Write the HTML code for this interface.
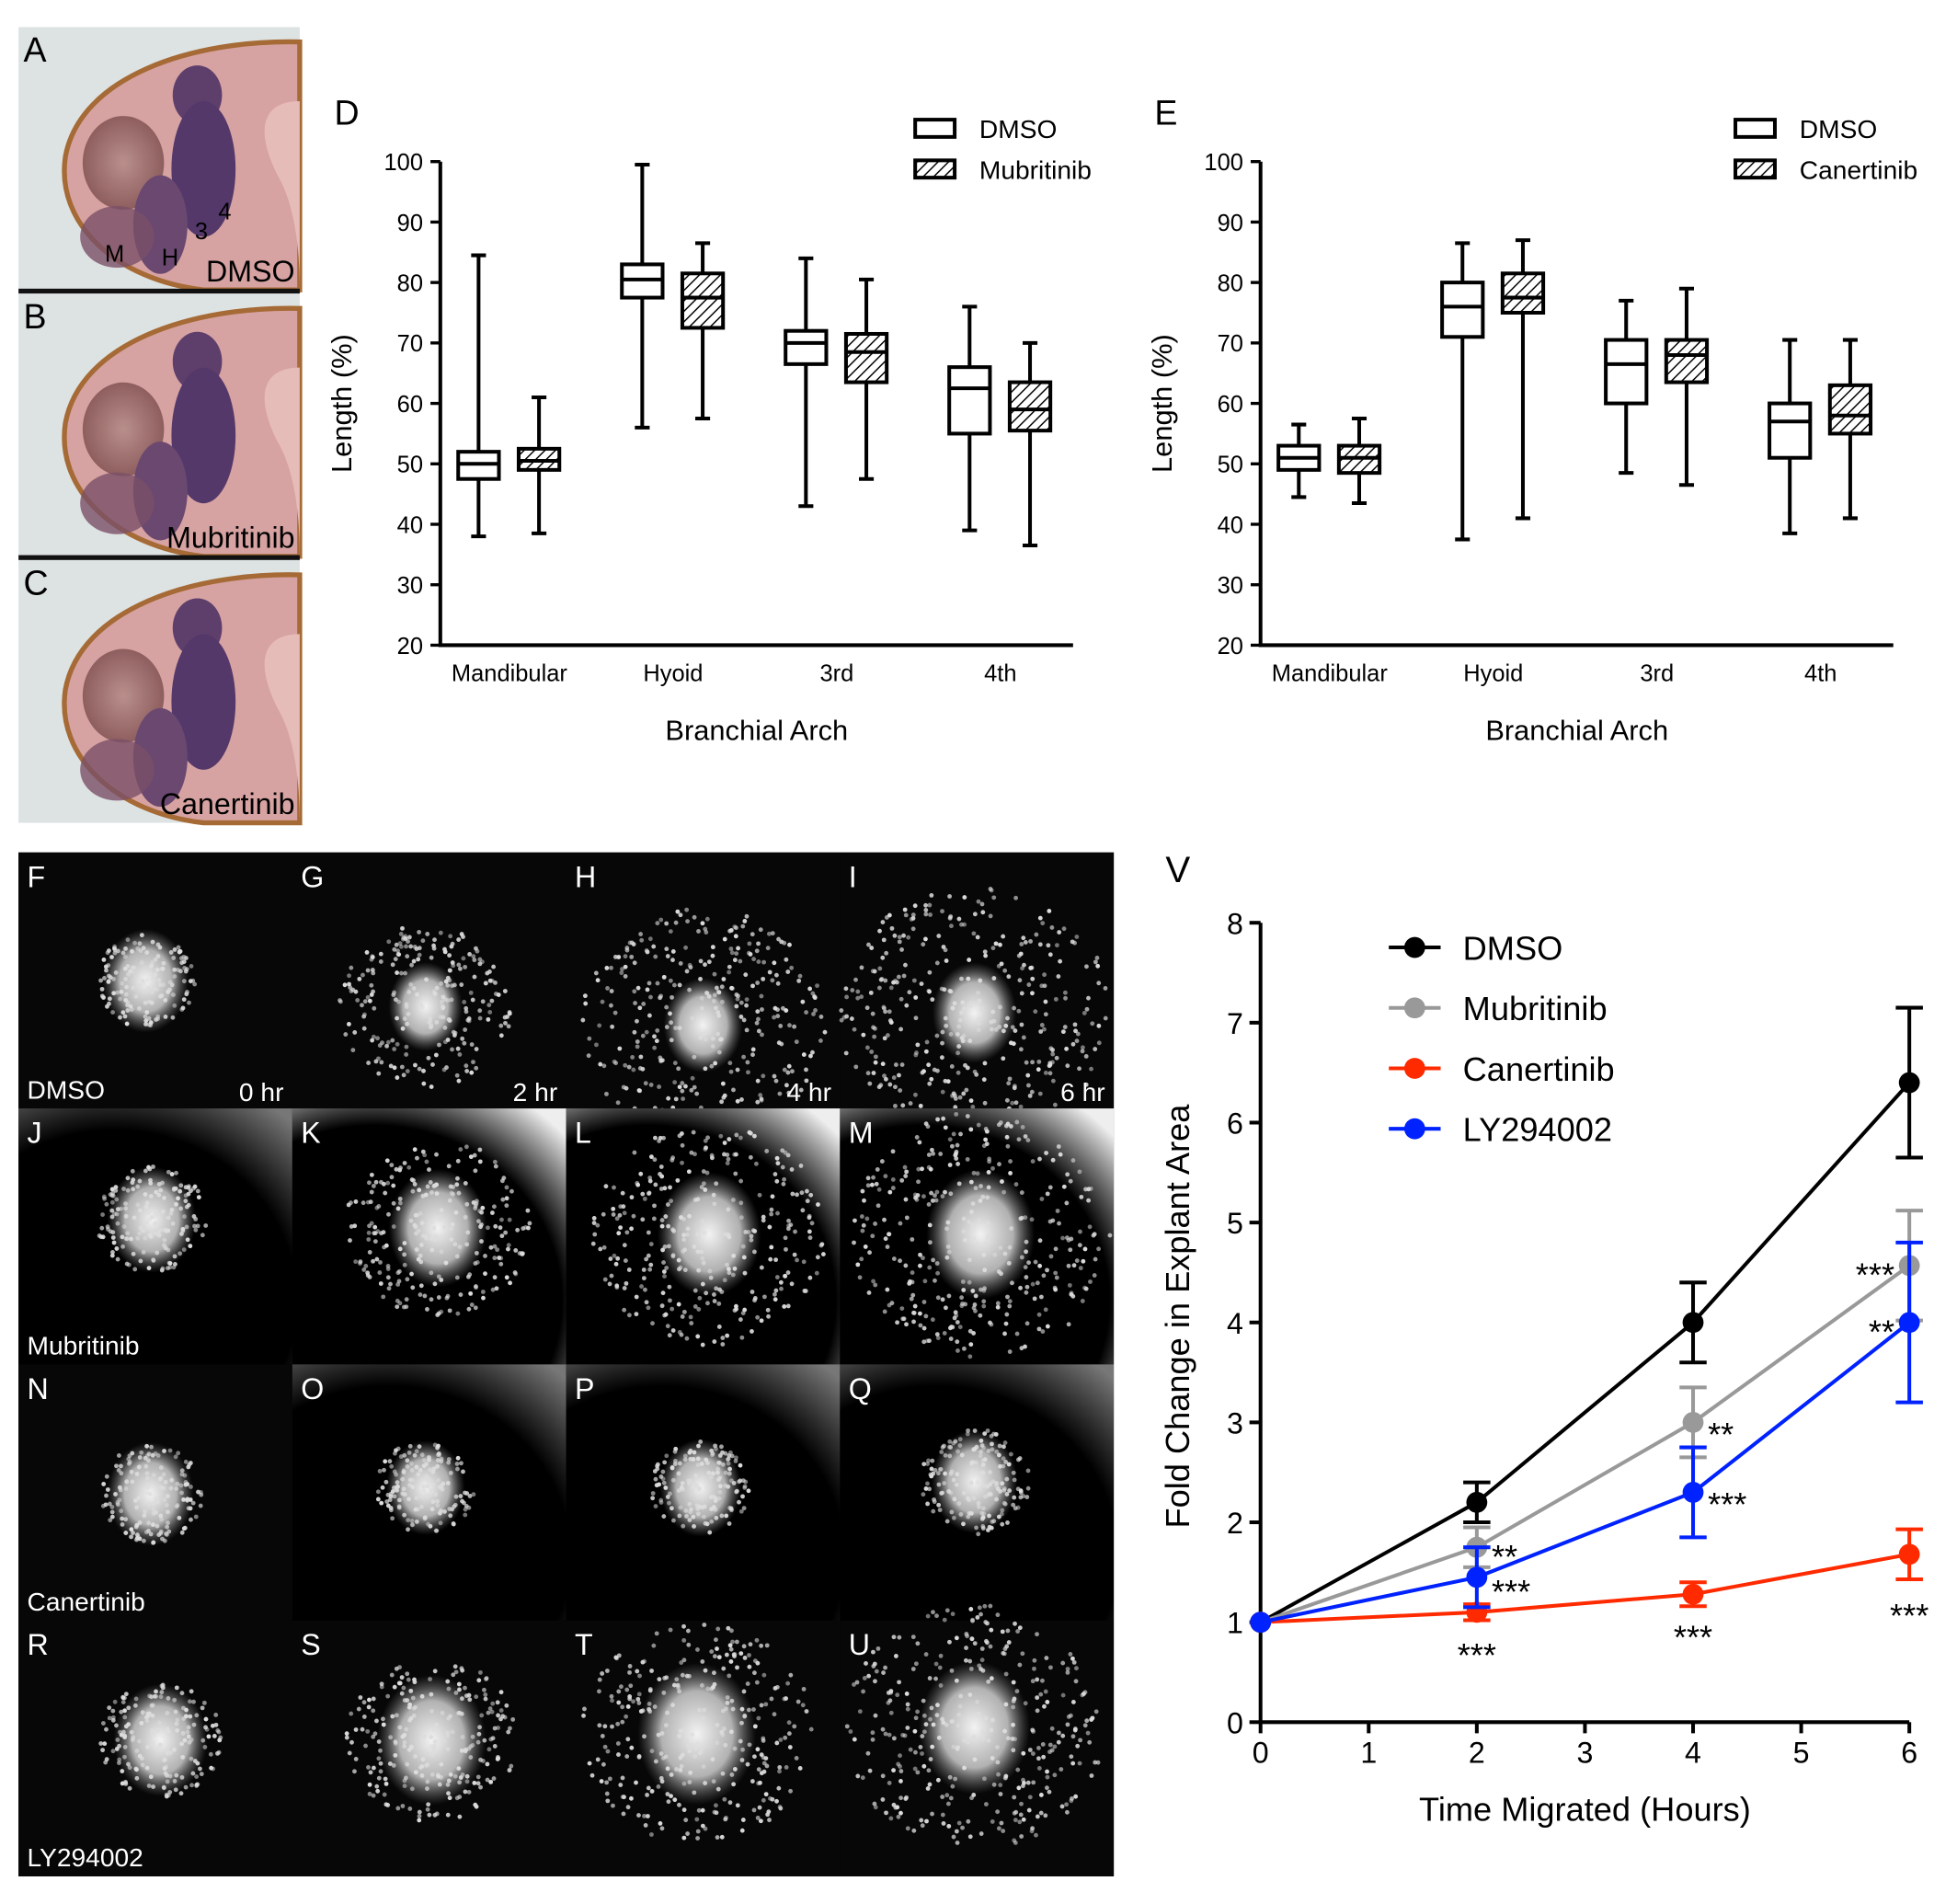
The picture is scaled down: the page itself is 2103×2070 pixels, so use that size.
<!DOCTYPE html>
<html><head><meta charset="utf-8"><style>
html,body{margin:0;padding:0;background:#fff}
svg{display:block}
text{font-family:"Liberation Sans",sans-serif}
</style></head><body>
<svg id="fig" width="2103" height="2070" viewBox="0 0 1568 1543.4" xmlns="http://www.w3.org/2000/svg">
<defs>
<pattern id="hatch" patternUnits="userSpaceOnUse" width="6" height="6" patternTransform="rotate(45)">
<rect width="6" height="6" fill="#fff"/><line x1="0" y1="0" x2="0" y2="6" stroke="#000" stroke-width="2.2"/>
</pattern>
<radialGradient id="blob" cx="0.5" cy="0.5" r="0.5">
<stop offset="0" stop-color="#fff" stop-opacity="0.95"/><stop offset="0.6" stop-color="#ddd" stop-opacity="0.8"/><stop offset="1" stop-color="#888" stop-opacity="0"/>
</radialGradient>
<radialGradient id="vigM" cx="0.3" cy="0.75" r="0.95">
<stop offset="0.72" stop-color="#000"/><stop offset="1" stop-color="#eee"/>
</radialGradient>
<radialGradient id="vigC" cx="0.35" cy="0.75" r="0.95">
<stop offset="0.7" stop-color="#000"/><stop offset="1" stop-color="#777"/>
</radialGradient>
<radialGradient id="eye" cx="0.5" cy="0.5" r="0.5">
<stop offset="0" stop-color="#b98f8c"/><stop offset="1" stop-color="#8e5e5e"/>
</radialGradient>
</defs>
<g id="embryos"></g>
<g id="explants"></g>
<g id="chartD"></g>
<g id="chartE"></g>
<g id="chartV"></g>
</svg>
<script>
// ---- Chart D data ----
const dCategories = ["Mandibular","Hyoid","3rd","4th"];
const dDmso = [[38,47.5,50,52,84.5],[56,77.5,80.5,83,99.5],[43,66.5,70,72,84],[39,55,62.5,66,76]];
const dMub  = [[38.5,49,50.5,52.5,61],[57.5,72.5,77.5,81.5,86.5],[47.5,63.5,68.5,71.5,80.5],[36.5,55.5,59,63.5,70]];
// ---- Chart E data ----
const eCategories = ["Mandibular","Hyoid","3rd","4th"];
const eDmso = [[44.5,49,51,53,56.5],[37.5,71,76,80,86.5],[48.5,60,66.5,70.5,77],[38.5,51,57,60,70.5]];
const eCan  = [[43.5,48.5,51,53,57.5],[41,75,77.5,81.5,87],[46.5,63.5,68,70.5,79],[41,55,58,63,70.5]];
const boxTicks = [20,30,40,50,60,70,80,90,100];
// ---- Chart V data ----
const vTimes = [0,2,4,6];
const vDmso = [1,2.2,4.0,6.4];
const vDmsoErr = [0,0.2,0.4,0.75];
const vMub = [1,1.75,3.0,4.57];
const vMubErr = [0,0.2,0.35,0.55];
const vCan = [1,1.1,1.28,1.68];
const vCanErr = [0,0.08,0.12,0.25];
const vLy = [1,1.45,2.3,4.0];
const vLyErr = [0,0.3,0.45,0.8];
const vXTicks = [0,1,2,3,4,5,6];
const vYTicks = [0,1,2,3,4,5,6,7,8];

const NS="http://www.w3.org/2000/svg";
function mk(parent,tag,attrs,txt){const e=document.createElementNS(NS,tag);for(const k in attrs)e.setAttribute(k,attrs[k]);if(txt!==undefined)e.textContent=txt;parent.appendChild(e);return e;}

// ---------- Embryo panels ----------
(function(){
 const g=document.getElementById('embryos');
 const labels=[["A","DMSO"],["B","Mubritinib"],["C","Canertinib"]];
 labels.forEach((l,i)=>{
  const oy=22+i*216;
  const pg=mk(g,'g',{transform:`translate(15,${oy})`});
  
  
  mk(pg,'rect',{x:0,y:0,width:228,height:213,fill:'#dde2e2'});
  mk(pg,'path',{d:'M228,12 C140,10 50,40 38,105 C30,160 80,205 150,213 L228,213 Z',fill:'#d7a3a2',stroke:'#a56a35','stroke-width':4});
  mk(pg,'path',{d:'M228,60 C200,60 190,80 210,120 C228,150 228,200 228,213 Z',fill:'#e6bcb8'});
  mk(pg,'ellipse',{cx:85,cy:110,rx:33,ry:38,fill:'url(#eye)'});
  mk(pg,'ellipse',{cx:145,cy:55,rx:20,ry:24,fill:'#5e3f6c'});
  mk(pg,'ellipse',{cx:150,cy:115,rx:26,ry:55,fill:'#54386a'});
  mk(pg,'ellipse',{cx:115,cy:160,rx:22,ry:40,fill:'#6a4870'});
  mk(pg,'ellipse',{cx:80,cy:170,rx:30,ry:25,fill:'#7a5068',opacity:0.8});
  const t=mk(pg,'text',{x:4,y:28,'font-size':28,fill:'#000'},l[0]);
  
  
  const t2=mk(pg,'text',{x:224,y:206,'font-size':24,'text-anchor':'end',fill:'#000'},l[1]);
  
  
  if(i===0){
   [["M",70,190],["H",116,193],["3",143,172],["4",162,156]].forEach(a=>{
    const t3=mk(pg,'text',{x:a[1],y:a[2],'font-size':19,fill:'#000'},a[0]);
    
    
   });
  }
  if(i<2){const ln=mk(g,'rect',{x:15,y:oy+212,width:228,height:4,fill:'#111'});
   }
 });
})();

// ---------- Explant grid ----------
(function(){
 const g=document.getElementById('explants');
 const letters=["FGHI","JKLM","NOPQ","RSTU"];
 const rows=["DMSO","Mubritinib","Canertinib","LY294002"];
 const hours=["0 hr","2 hr","4 hr","6 hr"];
 const centers=[
  [[103,104,35,40],[108,125,30,70],[111,140,32,100],[109,130,34,110]],
  [[108,90,36,45],[118,97,40,75],[116,102,42,95],[114,102,44,105]],
  [[107,105,35,42],[108,100,32,40],[109,100,33,40],[109,95,35,45]],
  [[115,97,38,50],[113,97,44,70],[106,92,48,95],[109,87,45,105]]];
 let seed=7;function rnd(){seed=(seed*16807)%2147483647;return seed/2147483647;}
 const cw=222,ch=207.5;
 mk(g,'rect',{x:15,y:691,width:888,height:830,fill:'#050505'});
 for(let r=0;r<4;r++)for(let c=0;c<4;c++){
  const x0=15+c*cw,y0=691+r*ch;
  const cell=mk(g,'g',{transform:`translate(${x0},${y0})`});
  
  
  const fill=r===1&&c>0?'url(#vigM)':(r===1?'url(#vigC)':(r===2&&c>0?'url(#vigC)':'#070707'));
  mk(cell,'rect',{x:0,y:0,width:cw,height:ch,fill:fill});
  const [cx,cy,br,sr]=centers[r][c];
  mk(cell,'ellipse',{cx:cx,cy:cy,rx:br,ry:br*1.2,fill:'url(#blob)'});
  const n=30+sr*3;
  for(let k=0;k<n;k++){const a=rnd()*6.283,d=Math.sqrt(rnd())*sr;
   mk(cell,'circle',{cx:(cx+Math.cos(a)*d).toFixed(1),cy:(cy+Math.sin(a)*d*0.95).toFixed(1),r:1.8,fill:'#ddd',opacity:(0.5+rnd()*0.5).toFixed(2)});}
  const lt=mk(cell,'text',{x:7,y:28,'font-size':24,fill:'#fff'},letters[r][c]);
  
  if(c===0){const rt=mk(cell,'text',{x:7,y:ch-8,'font-size':21,fill:'#fff'},rows[r]);
   }
  if(r===0){const ht=mk(cell,'text',{x:cw-7,y:ch-6,'font-size':21,fill:'#fff','text-anchor':'end'},hours[c]);
   }
 }
})();

// ---------- Box charts ----------
function boxChart(id,letter,x0,cats,s1,s2,n1,n2){
 const g=document.getElementById(id);
 const yb=523,yt=131,x1=x0+513;
 const Y=v=>yb-(v-20)/80*(yb-yt);
 const C=i=>x0+56+i*132.7;
 const pl=mk(g,'text',{x:x0-86,y:101,'font-size':28},letter);
 
 const ax=mk(g,'path',{d:`M${x0},${yt} V${yb} H${x1}`,fill:'none',stroke:'#000','stroke-width':3});
 
 boxTicks.forEach(t=>{
  mk(g,'line',{x1:x0-8,x2:x0,y1:Y(t),y2:Y(t),stroke:'#000','stroke-width':2.5});
  const tl=mk(g,'text',{x:x0-14,y:Y(t)+7,'font-size':19,'text-anchor':'end'},t);
  
 });
 cats.forEach((c,i)=>{const tl=mk(g,'text',{x:C(i),y:552,'font-size':19,'text-anchor':'middle'},c);
  });
 const xt=mk(g,'text',{x:(x0+x1)/2,y:600,'font-size':23,'text-anchor':'middle'},'Branchial Arch');
 
 const yl=mk(g,'text',{x:0,y:0,'font-size':23,'text-anchor':'middle',transform:`translate(${x0-72},${(yb+yt)/2}) rotate(-90)`},'Length (%)');
 
 function box(cx,d,fill,name){
  const b=mk(g,'g',{});
  
  const w=33,cap=12;
  mk(b,'line',{x1:cx,x2:cx,y1:Y(d[0]),y2:Y(d[4]),stroke:'#000','stroke-width':3});
  mk(b,'line',{x1:cx-cap/2,x2:cx+cap/2,y1:Y(d[0]),y2:Y(d[0]),stroke:'#000','stroke-width':3});
  mk(b,'line',{x1:cx-cap/2,x2:cx+cap/2,y1:Y(d[4]),y2:Y(d[4]),stroke:'#000','stroke-width':3});
  mk(b,'rect',{x:cx-w/2,y:Y(d[3]),width:w,height:Y(d[1])-Y(d[3]),fill:fill,stroke:'#000','stroke-width':3});
  mk(b,'line',{x1:cx-w/2,x2:cx+w/2,y1:Y(d[2]),y2:Y(d[2]),stroke:'#000','stroke-width':3});
 }
 cats.forEach((c,i)=>{box(C(i)-25,s1[i],'#fff','box-'+n1.toLowerCase()+'-'+i);box(C(i)+24,s2[i],'url(#hatch)','box-'+n2.toLowerCase()+'-'+i);});
 const lx=x0+385;
 [[n1,'#fff',104],[n2,'url(#hatch)',137]].forEach(L=>{
  const lg=mk(g,'g',{});
  mk(lg,'rect',{x:lx,y:L[2]-7,width:32,height:14,fill:L[1],stroke:'#000','stroke-width':3});
  mk(lg,'text',{x:lx+52,y:L[2]+8,'font-size':21},L[0]);
 });
}
boxChart('chartD','D',357,dCategories,dDmso,dMub,'DMSO','Mubritinib');
boxChart('chartE','E',1022,eCategories,eDmso,eCan,'DMSO','Canertinib');

// ---------- Line chart V ----------
(function(){
 const g=document.getElementById('chartV');
 const x0=1022,x6=1548,y0=1396,y8=748;
 const X=t=>x0+t/6*(x6-x0), Y=v=>y0-v/8*(y0-y8);
 const pl=mk(g,'text',{x:945,y:715,'font-size':30},'V');
 
 const ax=mk(g,'path',{d:`M${x0},${y8} V${y0} H${x6}`,fill:'none',stroke:'#000','stroke-width':3});
 
 vYTicks.forEach(t=>{mk(g,'line',{x1:x0-9,x2:x0,y1:Y(t),y2:Y(t),stroke:'#000','stroke-width':3});
  const tl=mk(g,'text',{x:x0-14,y:Y(t)+9,'font-size':24,'text-anchor':'end'},t);
  });
 vXTicks.forEach(t=>{mk(g,'line',{x1:X(t),x2:X(t),y1:y0,y2:y0+9,stroke:'#000','stroke-width':3});
  const tl=mk(g,'text',{x:X(t),y:y0+33,'font-size':24,'text-anchor':'middle'},t);
  });
 const xt=mk(g,'text',{x:(x0+x6)/2,y:1476,'font-size':27,'text-anchor':'middle'},'Time Migrated (Hours)');
 
 const yt=mk(g,'text',{x:0,y:0,'font-size':27,'text-anchor':'middle',transform:`translate(964,${(y0+y8)/2-5}) rotate(-90)`},'Fold Change in Explant Area');
 
 const series=[["DMSO",vDmso,vDmsoErr,'#000'],["Mubritinib",vMub,vMubErr,'#999'],["Canertinib",vCan,vCanErr,'#ff2a00'],["LY294002",vLy,vLyErr,'#0022ff']];
 series.forEach(s=>{
  const sg=mk(g,'g',{});
  mk(sg,'polyline',{points:vTimes.map((t,i)=>X(t)+','+Y(s[1][i])).join(' '),fill:'none',stroke:s[3],'stroke-width':3});
  vTimes.forEach((t,i)=>{
   if(s[2][i]>0){const lo=Y(s[1][i]-s[2][i]),hi=Y(s[1][i]+s[2][i]);
    mk(sg,'line',{x1:X(t),x2:X(t),y1:lo,y2:hi,stroke:s[3],'stroke-width':3});
    mk(sg,'line',{x1:X(t)-11,x2:X(t)+11,y1:lo,y2:lo,stroke:s[3],'stroke-width':3});
    mk(sg,'line',{x1:X(t)-11,x2:X(t)+11,y1:hi,y2:hi,stroke:s[3],'stroke-width':3});}
   const p=mk(sg,'circle',{cx:X(t),cy:Y(s[1][i]),r:8.5,fill:s[3]});
   
  });
 });
 const stars=[["**",vMub,1,1,12,6],["***",vMub,3,-1,-12,6],["**",vMub,2,1,12,8],["***",vLy,1,1,12,10],["***",vLy,2,1,12,8],["**",vLy,3,-1,-12,6],["***",vCan,1,0,0,33],["***",vCan,2,0,0,33],["***",vCan,3,0,0,48]];
 stars.forEach(st=>{
  const v=st[1][st[2]];const anchor=st[3]===1?'start':(st[3]===-1?'end':'middle');
  const tx=mk(g,'text',{x:X(vTimes[st[2]])+st[4],y:Y(v)+st[5]+11,'font-size':27,'text-anchor':anchor},st[0]);
  
 });
 series.forEach((s,i)=>{
  const ly=768+i*49;
  const lg=mk(g,'g',{});
  mk(lg,'line',{x1:1126,x2:1168,y1:ly,y2:ly,stroke:s[3],'stroke-width':3});
  mk(lg,'circle',{cx:1147,cy:ly,r:8.5,fill:s[3]});
  mk(lg,'text',{x:1186,y:ly+10,'font-size':27},s[0]);
 });
})();
</script>
</body></html>
